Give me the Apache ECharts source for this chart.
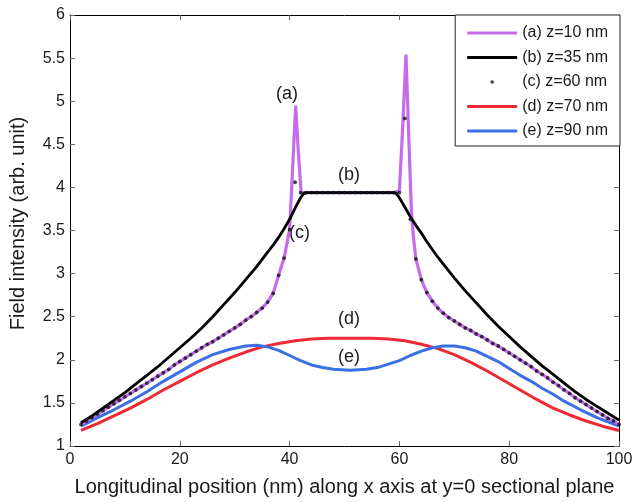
<!DOCTYPE html>
<html>
<head>
<meta charset="utf-8">
<script src="https://cdn.jsdelivr.net/npm/echarts@6/dist/echarts.min.js"></script>
<style>
html,body{margin:0;padding:0;background:#fff;}
#chart{width:641px;height:502px;}
</style>
</head>
<body>
<div id="chart"></div>
<script>
// ---- data ----
const seriesNames = ['(a) z=10 nm', '(b) z=35 nm', '(c) z=60 nm', '(d) z=70 nm', '(e) z=90 nm'];

// (a) z=10 nm
const aX = [2,3,4,5,6,7,8,9,10,11,12,13,14,15,16,17,18,19,20,21,22,23,24,25,26,27,28,29,30,31,32,33,34,35,36,37,38,39,40,40.5,41.1,41.6,42.1,43,50,59,60,60.6,61.2,61.7,62.2,62.6,63,64,65,66,67,68,69,70,71,72,73,74,75,76,77,78,79,80,81,82,83,84,85,86,87,88,89,90,91,92,93,94,95,96,97,98,99,100];
const aY = [1.25,1.29,1.33,1.37,1.41,1.45,1.49,1.53,1.57,1.61,1.65,1.69,1.73,1.77,1.81,1.85,1.89,1.94,1.98,2.02,2.06,2.10,2.14,2.18,2.21,2.25,2.29,2.33,2.37,2.41,2.46,2.50,2.55,2.60,2.67,2.77,2.98,3.18,3.51,4.15,4.95,4.40,3.94,3.94,3.94,3.94,3.96,4.70,5.54,4.60,3.70,3.40,3.17,2.93,2.78,2.68,2.60,2.54,2.49,2.45,2.41,2.37,2.34,2.30,2.27,2.23,2.19,2.16,2.12,2.08,2.04,2.00,1.96,1.92,1.87,1.83,1.79,1.74,1.70,1.65,1.61,1.56,1.52,1.48,1.44,1.40,1.36,1.32,1.29,1.25];

// (b) z=35 nm
const bX = [2,4,6,8,10,12,14,16,18,20,22,24,26,28,30,32,34,36,37,38,39,40,41,42,42.6,43.2,50,58.8,59.4,60,61,62,63,64,65,66,67,68,70,72,74,76,78,80,82,84,86,88,90,92,94,96,98,100];
const bY = [1.27,1.35,1.44,1.53,1.62,1.72,1.82,1.92,2.03,2.14,2.25,2.37,2.50,2.64,2.78,2.93,3.08,3.25,3.33,3.42,3.52,3.63,3.76,3.88,3.93,3.94,3.94,3.94,3.93,3.88,3.77,3.66,3.56,3.47,3.37,3.28,3.19,3.11,2.95,2.80,2.66,2.52,2.39,2.27,2.15,2.04,1.93,1.83,1.73,1.63,1.54,1.46,1.38,1.30];

// (c) z=60 nm (dots)
const cX = [2,3,4,5,6,7,8,9,10,11,12,13,14,15,16,17,18,19,20,21,22,23,24,25,26,27,28,29,30,31,32,33,34,35,36,37,38,39,40,41,42,43,44,45,46,47,48,49,50,51,52,53,54,55,56,57,58,59,60,61,62,63,64,65,66,67,68,69,70,71,72,73,74,75,76,77,78,79,80,81,82,83,84,85,86,87,88,89,90,91,92,93,94,95,96,97,98,99,100];
const cY = [1.25,1.29,1.33,1.37,1.41,1.45,1.49,1.53,1.57,1.61,1.65,1.69,1.73,1.77,1.81,1.85,1.89,1.94,1.98,2.02,2.06,2.10,2.14,2.18,2.21,2.25,2.29,2.33,2.37,2.41,2.46,2.50,2.55,2.60,2.67,2.77,2.98,3.18,3.51,4.06,3.94,3.94,3.94,3.94,3.94,3.94,3.94,3.94,3.94,3.94,3.94,3.94,3.94,3.94,3.94,3.94,3.94,3.94,3.94,4.80,3.63,3.17,2.93,2.78,2.68,2.60,2.54,2.49,2.45,2.41,2.37,2.34,2.30,2.27,2.23,2.19,2.16,2.12,2.08,2.04,2.00,1.96,1.92,1.87,1.83,1.79,1.74,1.70,1.65,1.61,1.56,1.52,1.48,1.44,1.40,1.36,1.32,1.29,1.25];

// (d) z=70 nm
const dX = [2,5,8,11,14,17,20,23,26,29,32,35,38,41,44,47,51,55,58,61,64,67,70,73,76,79,82,85,88,91,94,97,100];
const dY = [1.18,1.26,1.35,1.44,1.54,1.65,1.75,1.85,1.94,2.02,2.09,2.15,2.19,2.22,2.24,2.25,2.25,2.25,2.24,2.22,2.18,2.13,2.06,1.97,1.87,1.76,1.65,1.54,1.44,1.36,1.29,1.23,1.18];

// (e) z=90 nm
const eX = [2,5,8,11,14,17,20,23,26,29,32,34,36,38,40,42,44,46,48,51,54,56,58,60,62,64,66,68,70,72,74,76,78,80,82,84,86,88,90,93,96,100];
const eY = [1.23,1.33,1.42,1.52,1.63,1.75,1.86,1.97,2.06,2.12,2.16,2.17,2.15,2.11,2.05,1.99,1.94,1.91,1.89,1.88,1.89,1.91,1.95,1.99,2.05,2.10,2.14,2.16,2.16,2.14,2.10,2.04,1.98,1.90,1.82,1.75,1.67,1.60,1.52,1.42,1.33,1.23];

const xTicks = [0, 20, 40, 60, 80, 100];
const yTicks = [1, 1.5, 2, 2.5, 3, 3.5, 4, 4.5, 5, 5.5, 6];
const curveLabels = ['(a)', '(b)', '(c)', '(d)', '(e)'];

function pairs(xs, ys) { return xs.map((x, i) => [x, ys[i]]); }

const FONT = '"Liberation Sans", Arial, sans-serif';
const colors = ['#c46cec', '#000000', '#111111', '#ee2a34', '#3b6fe4'];
const lineIcon = 'path://M0,0M50,14M0,5.5L50,5.5L50,8.5L0,8.5Z';
const dotIcon = 'path://M0,0M50,14M23.2,7a1.8,1.8 0 1,0 3.6,0a1.8,1.8 0 1,0 -3.6,0Z';

const chart = echarts.init(document.getElementById('chart'), null, { renderer: 'canvas' });

const axisLineStyle = { color: '#000', width: 1 };
const option = {
  animation: false,
  backgroundColor: '#fff',
  textStyle: { fontFamily: FONT },
  grid: { left: 65, right: 22, top: 15, bottom: 50, containLabel: false },
  xAxis: [
    {
      type: 'value', min: xTicks[0], max: xTicks[xTicks.length - 1], interval: 20,
      name: 'Longitudinal position (nm) along x axis at y=0 sectional plane',
      nameLocation: 'middle', nameGap: 31,
      nameTextStyle: { fontSize: 20, color: '#1a1a1a', fontFamily: FONT },
      axisLine: { show: true, lineStyle: axisLineStyle },
      axisTick: { show: true, inside: true, length: 5, lineStyle: { color: '#666' } },
      axisLabel: { fontSize: 16, color: '#1a1a1a', margin: 6, fontFamily: FONT },
      splitLine: { show: false }
    },
    {
      type: 'value', position: 'top', min: xTicks[0], max: xTicks[xTicks.length - 1], interval: 20,
      axisLine: { show: true, onZero: false, lineStyle: axisLineStyle },
      axisTick: { show: true, inside: true, length: 5, lineStyle: { color: '#666' } },
      axisLabel: { show: false }, splitLine: { show: false }
    }
  ],
  yAxis: [
    {
      type: 'value', min: yTicks[0], max: yTicks[yTicks.length - 1], interval: 0.5,
      name: 'Field intensity (arb. unit)',
      nameLocation: 'middle', nameGap: 42,
      nameTextStyle: { fontSize: 20, color: '#1a1a1a', fontFamily: FONT, padding: [0, 0, 0, 14] },
      axisLine: { show: true, lineStyle: axisLineStyle },
      axisTick: { show: true, inside: true, length: 5, lineStyle: { color: '#666' } },
      axisLabel: { fontSize: 16, color: '#1a1a1a', margin: 5, fontFamily: FONT },
      splitLine: { show: false }
    },
    {
      type: 'value', position: 'right', min: yTicks[0], max: yTicks[yTicks.length - 1], interval: 0.5,
      axisLine: { show: true, onZero: false, lineStyle: axisLineStyle },
      axisTick: { show: true, inside: true, length: 5, lineStyle: { color: '#666' } },
      axisLabel: { show: false }, splitLine: { show: false }
    }
  ],
  legend: {
    orient: 'vertical', right: 21, top: 15,
    itemWidth: 50, itemHeight: 14, itemGap: 8.5, symbolKeepAspect: false,
    padding: [10, 12, 7, 12],
    backgroundColor: '#fff', borderColor: '#222', borderWidth: 1, borderRadius: 0,
    textStyle: { fontSize: 16, color: '#1a1a1a', fontFamily: FONT },
    data: [
      { name: seriesNames[0], icon: lineIcon },
      { name: seriesNames[1], icon: lineIcon },
      { name: seriesNames[2], icon: dotIcon },
      { name: seriesNames[3], icon: lineIcon },
      { name: seriesNames[4], icon: lineIcon }
    ]
  },
  series: [
    { name: seriesNames[3], type: 'line', data: pairs(dX, dY), smooth: false, showSymbol: false, z: 2,
      lineStyle: { color: colors[3], width: 3 }, itemStyle: { color: colors[3] } },
    { name: seriesNames[4], type: 'line', data: pairs(eX, eY), smooth: false, showSymbol: false, z: 3,
      lineStyle: { color: colors[4], width: 3 }, itemStyle: { color: colors[4] } },
    { name: seriesNames[0], type: 'line', data: pairs(aX, aY), smooth: false, showSymbol: false, z: 4,
      lineStyle: { color: colors[0], width: 3.2 }, itemStyle: { color: colors[0] } },
    { name: seriesNames[1], type: 'line', data: pairs(bX, bY), smooth: false, showSymbol: false, z: 5,
      lineStyle: { color: colors[1], width: 2.8 }, itemStyle: { color: colors[1] } },
    { name: seriesNames[2], type: 'scatter', data: pairs(cX, cY), symbol: 'circle', symbolSize: 3.8, z: 6,
      itemStyle: { color: colors[2] } }
  ],
  graphic: [
    { type: 'text', left: 276, top: 85, style: { text: curveLabels[0], font: '18px ' + FONT, fill: '#1a1a1a' } },
    { type: 'text', left: 338, top: 166, style: { text: curveLabels[1], font: '18px ' + FONT, fill: '#1a1a1a' } },
    { type: 'text', left: 289, top: 224, style: { text: curveLabels[2], font: '18px ' + FONT, fill: '#1a1a1a' } },
    { type: 'text', left: 338, top: 310, style: { text: curveLabels[3], font: '18px ' + FONT, fill: '#1a1a1a' } },
    { type: 'text', left: 338, top: 348, style: { text: curveLabels[4], font: '18px ' + FONT, fill: '#1a1a1a' } }
  ]
};
chart.setOption(option);
</script>
</body>
</html>
